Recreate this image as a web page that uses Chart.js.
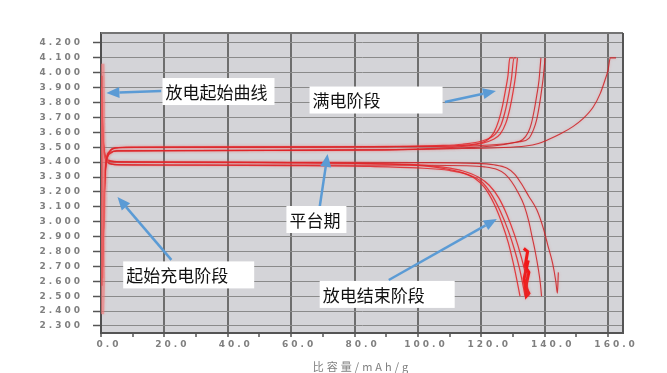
<!DOCTYPE html>
<html>
<head>
<meta charset="utf-8">
<script src="https://cdn.jsdelivr.net/npm/chart.js@4.4.1/dist/chart.umd.min.js"></script>
<style>
  html, body { margin: 0; padding: 0; background: #fff; }
  canvas { display: block; }
</style>
</head>
<body>
<canvas id="chart" width="667" height="373"></canvas>
<script>
// 刻度
const xTicks = [0, 10, 20, 30, 40, 50, 60, 70, 80, 90, 100, 110, 120, 130, 140, 150, 160];
const yTicks = [2.3, 2.4, 2.5, 2.6, 2.7, 2.8, 2.9, 3.0, 3.1, 3.2, 3.3, 3.4, 3.5, 3.6, 3.7, 3.8, 3.9, 4.0, 4.1, 4.2];
const xTitle = '比容量/mAh/g';

// 充电曲线 [比容量, 电压]
const charge1 = [[0.5,2.62],[0.9,3.05],[1.4,3.36],[2.3,3.45],[3.8,3.49],[8,3.5],[30,3.5],[60,3.501],[90,3.503],[105,3.506],[112,3.51],[117,3.518],[120,3.53],[122,3.55],[124,3.6],[125.5,3.68],[126.7,3.78],[127.6,3.88],[128.4,3.98],[129,4.1],[130,4.1]];
const charge2 = [[0.6,2.78],[1.0,3.2],[1.6,3.41],[2.6,3.47],[4.5,3.495],[10,3.501],[40,3.502],[70,3.503],[95,3.506],[108,3.512],[114,3.52],[119,3.535],[122,3.555],[124.5,3.59],[126.2,3.65],[127.5,3.74],[128.6,3.85],[129.5,3.96],[130.3,4.1],[131,4.1]];
const charge3 = [[0.8,2.95],[1.2,3.28],[1.9,3.42],[3,3.46],[5,3.476],[20,3.478],[50,3.479],[80,3.482],[100,3.488],[110,3.497],[116,3.51],[120,3.525],[123.5,3.55],[126,3.59],[127.7,3.66],[129,3.76],[130,3.87],[130.8,3.98],[131.4,4.1]];
const charge4 = [[0.7,2.88],[1.1,3.22],[1.8,3.41],[2.9,3.46],[5,3.476],[30,3.477],[60,3.479],[90,3.482],[105,3.488],[115,3.497],[125,3.512],[130,3.53],[133,3.55],[134.8,3.6],[135.8,3.66],[136.7,3.75],[137.5,3.85],[138.2,3.95],[138.8,4.1]];
const charge5 = [[0.6,2.7],[1.0,3.15],[1.6,3.4],[2.6,3.47],[4.5,3.496],[20,3.5],[50,3.501],[80,3.503],[100,3.506],[118,3.51],[127,3.522],[132,3.537],[135,3.56],[136.5,3.62],[137.4,3.68],[138.3,3.78],[139,3.88],[139.6,3.98],[140.1,4.1]];
const charge6 = [[0.9,3.05],[1.3,3.32],[2.1,3.44],[3.2,3.468],[5.5,3.477],[30,3.478],[60,3.48],[90,3.483],[110,3.49],[125,3.497],[134,3.508],[138,3.525],[141,3.55],[145,3.59],[149,3.64],[152,3.69],[155.3,3.77],[157.5,3.86],[159,3.95],[160,4.02],[160.7,4.1],[162.5,4.1]];

// 放电曲线
const discharge1 = [[0.2,3.9],[0.5,3.65],[0.9,3.5],[1.6,3.43],[2.8,3.41],[6,3.402],[30,3.4],[60,3.397],[85,3.39],[100,3.378],[108,3.358],[114,3.33],[118,3.29],[121,3.23],[124,3.12],[126.5,2.99],[128.5,2.86],[130,2.73],[131.2,2.61],[132.2,2.5]];
const discharge2 = [[0.3,3.8],[0.6,3.58],[1.0,3.46],[1.8,3.41],[3,3.39],[6,3.382],[30,3.38],[60,3.377],[85,3.371],[100,3.361],[110,3.344],[116,3.315],[120,3.27],[123,3.19],[126,3.07],[128.5,2.94],[130.5,2.81],[132,2.69],[133,2.59],[133.8,2.5]];
const discharge3 = [[0.4,3.7],[0.8,3.52],[1.3,3.44],[2.2,3.41],[4,3.401],[20,3.399],[50,3.396],[80,3.391],[100,3.382],[108,3.366],[114,3.342],[119,3.3],[122.5,3.245],[125.5,3.16],[128,3.05],[130.5,2.91],[132.5,2.77],[134,2.64],[135,2.5]];
const discharge4 = [[0.3,3.75],[0.7,3.55],[1.1,3.45],[2,3.4],[3.5,3.385],[20,3.381],[60,3.38],[100,3.379],[115,3.376],[121,3.368],[125,3.35],[127.5,3.32],[129.5,3.27],[131.5,3.2],[133.5,3.11],[135,3.0],[136,2.9],[137,2.8],[138,2.68],[138.6,2.59],[139,2.5]];
const discharge5 = [[0.2,3.85],[0.5,3.62],[0.9,3.48],[1.6,3.42],[3,3.405],[20,3.401],[60,3.399],[100,3.397],[118,3.392],[124,3.382],[128,3.36],[130.5,3.32],[132.5,3.26],[135,3.17],[137.5,3.08],[139.5,2.96],[141,2.84],[142.5,2.72],[143.5,2.6],[144,2.52],[144.3,2.66]];

// 起始段和结束段的杂乱部分
const startBand = [[0.3,4.06],[0.5,3.8],[0.3,3.5],[0.6,3.2],[0.3,2.9],[0.5,2.6],[0.2,2.38]];
const startCore = [[0.15,3.98],[0.25,3.7],[0.15,3.4],[0.3,3.1],[0.15,2.8],[0.2,2.57]];
const endNoise = [[133.4,2.82],[134.6,2.8],[133.8,2.7],[135,2.66],[134,2.56],[135,2.52],[134.2,2.5],[133.5,2.62],[134.8,2.74]];

// 标注
const notes = [
  { text: '放电起始曲线', x: 19.4, y: 3.874, w: 112, from: [19.0, 3.878], to: [1.7, 3.864] },
  { text: '满电阶段', x: 65.8, y: 3.817, w: 133, from: [108.5, 3.804], to: [124.6, 3.878] },
  { text: '平台期', x: 58.5, y: 3.015, w: 60, from: [69.0, 3.099], to: [71.5, 3.455] },
  { text: '起始充电阶段', x: 7.0, y: 2.643, w: 131, from: [22.2, 2.744], to: [5.2, 3.166] },
  { text: '放电结束阶段', x: 69.0, y: 2.512, w: 135, from: [90.8, 2.609], to: [124.9, 3.019] }
];

const toPoints = arr => arr.map(p => ({ x: p[0], y: p[1] }));

function curve(arr, color, width) {
  return {
    data: toPoints(arr),
    showLine: true,
    borderColor: color,
    borderWidth: width,
    pointRadius: 0,
    fill: false,
    cubicInterpolationMode: 'monotone'
  };
}

function band(arr, color, width) {
  return {
    data: toPoints(arr),
    showLine: true,
    borderColor: color,
    borderWidth: width,
    pointRadius: 0,
    fill: false,
    tension: 0
  };
}

const red = 'rgba(205,30,35,0.85)';
const redBright = 'rgba(225,35,40,0.85)';

const datasets = [
  band(startBand, 'rgba(240,120,120,0.55)', 5),
  curve(charge1, redBright, 1.2),
  curve(charge2, redBright, 1.2),
  curve(charge3, redBright, 1.2),
  curve(charge4, red, 1.1),
  curve(charge5, red, 1.1),
  curve(charge6, red, 1.1),
  curve(discharge1, redBright, 1.2),
  curve(discharge2, redBright, 1.2),
  curve(discharge3, redBright, 1.2),
  curve(discharge4, red, 1.1),
  curve(discharge5, red, 1.1),
  band(endNoise, '#f01818', 3),
  band(startCore, '#a01818', 1.8)
];

// 背景、边框、字距
const frame = {
  id: 'frame',
  beforeDraw(chart) {
    const { ctx, chartArea: a } = chart;
    ctx.fillStyle = '#d4d4d8';
    ctx.fillRect(a.left, a.top, a.right - a.left, a.bottom - a.top);
    ctx.letterSpacing = '3px';
  },
  beforeDatasetsDraw(chart) {
    const { ctx, chartArea: a } = chart;
    ctx.save();
    ctx.lineWidth = 2;
    ctx.strokeStyle = '#747474';
    ctx.beginPath();
    ctx.moveTo(a.left, a.top);
    ctx.lineTo(a.right, a.top);
    ctx.stroke();
    ctx.strokeStyle = '#555';
    ctx.beginPath();
    ctx.moveTo(a.right, a.top);
    ctx.lineTo(a.right, a.bottom);
    ctx.stroke();
    ctx.restore();
    ctx.save();
    ctx.shadowColor = 'rgba(240,110,110,0.55)';
    ctx.shadowBlur = 2.5;
  },
  afterDatasetsDraw(chart) {
    chart.ctx.restore();
  },
  afterDraw(chart) {
    const ctx = chart.ctx;
    const xs = chart.scales.x, ys = chart.scales.y;
    ctx.save();
    ctx.letterSpacing = '0px';
    // 箭头
    notes.forEach(n => {
      const x1 = xs.getPixelForValue(n.from[0]), y1 = ys.getPixelForValue(n.from[1]);
      const x2 = xs.getPixelForValue(n.to[0]), y2 = ys.getPixelForValue(n.to[1]);
      const ang = Math.atan2(y2 - y1, x2 - x1);
      const len = 13, half = 5.5;
      const bx = x2 - len * Math.cos(ang), by = y2 - len * Math.sin(ang);
      ctx.strokeStyle = '#5b9bd5';
      ctx.fillStyle = '#5b9bd5';
      ctx.lineWidth = 2.5;
      ctx.beginPath();
      ctx.moveTo(x1, y1);
      ctx.lineTo(bx, by);
      ctx.stroke();
      ctx.beginPath();
      ctx.moveTo(x2, y2);
      ctx.lineTo(bx + half * Math.sin(ang), by - half * Math.cos(ang));
      ctx.lineTo(bx - half * Math.sin(ang), by + half * Math.cos(ang));
      ctx.closePath();
      ctx.fill();
    });
    // 文本框
    notes.forEach(n => {
      const x0 = xs.getPixelForValue(n.x), yc = ys.getPixelForValue(n.y);
      const h = 27;
      ctx.fillStyle = '#ffffff';
      ctx.fillRect(x0, yc - h / 2, n.w, h);
      ctx.fillStyle = '#111';
      ctx.font = '17px "Noto Sans CJK SC", sans-serif';
      ctx.textAlign = 'left';
      ctx.textBaseline = 'middle';
      ctx.fillText(n.text, x0 + 3, yc + 1);
    });
    ctx.restore();
  }
};

const tickFont = { family: '"DejaVu Sans", sans-serif', size: 9, weight: 'bold' };

new Chart(document.getElementById('chart'), {
  type: 'scatter',
  data: { datasets },
  options: {
    responsive: false,
    animation: false,
    devicePixelRatio: 1,
    layout: { padding: { left: 0, top: 33, right: 44, bottom: 0 } },
    plugins: {
      legend: { display: false },
      tooltip: { enabled: false }
    },
    scales: {
      x: {
        type: 'linear',
        min: 0,
        max: 164.7,
        afterBuildTicks: s => { s.ticks = xTicks.map(v => ({ value: v })); },
        afterFit: s => { s.height = 40; },
        ticks: {
          autoSkip: false,
          maxRotation: 0,
          padding: 2,
          labelOffset: 8,
          color: '#7f7f7f',
          font: tickFont,
          callback: v => (v % 20 === 0 ? v.toFixed(1) : '')
        },
        grid: {
          color: c => (c.tick && c.tick.value % 20 === 0 ? '#6e6e6e' : 'rgba(0,0,0,0)'),
          lineWidth: 2,
          tickLength: 4,
          tickColor: '#555',
          tickWidth: 1.5
        },
        border: { color: '#555', width: 2 },
        title: {
          display: true,
          text: xTitle,
          color: '#7f7f7f',
          font: { family: '"Noto Sans CJK SC", sans-serif', size: 11 },
          padding: 0
        }
      },
      y: {
        min: 2.253,
        max: 4.267,
        afterBuildTicks: s => { s.ticks = yTicks.map(v => ({ value: v })); },
        afterFit: s => { s.width = 101; },
        ticks: {
          autoSkip: false,
          padding: 10,
          color: '#7f7f7f',
          font: tickFont,
          callback: v => v.toFixed(3)
        },
        grid: {
          color: '#8a8a8a',
          lineWidth: 1,
          tickLength: 8,
          tickColor: '#555',
          tickWidth: 1.5
        },
        border: { color: '#505050', width: 2 }
      }
    }
  },
  plugins: [frame]
});
</script>
</body>
</html>
